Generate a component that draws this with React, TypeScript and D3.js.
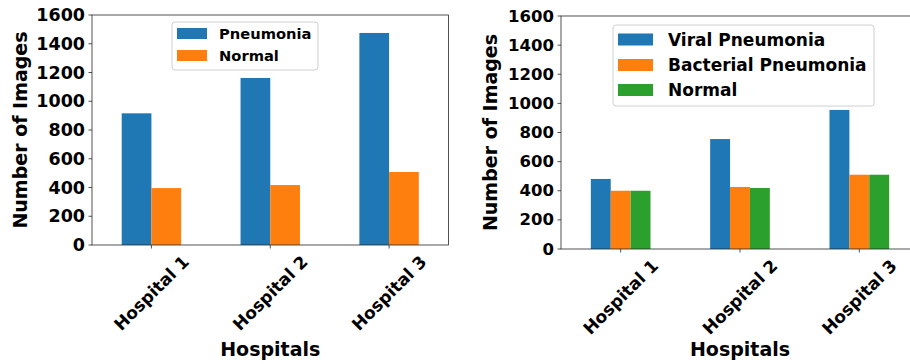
import React from 'react';
import * as d3 from 'd3';

const hospitals = ['Hospital 1', 'Hospital 2', 'Hospital 3'];
const yTicks = [0, 200, 400, 600, 800, 1000, 1200, 1400, 1600];

// left panel
const leftSeries = ['Pneumonia', 'Normal'];
const leftPneumonia = [916, 1162, 1475];
const leftNormal = [396, 417, 508];

// right panel
const rightSeries = ['Viral Pneumonia', 'Bacterial Pneumonia', 'Normal'];
const rightViral = [481, 755, 955];
const rightBacterial = [400, 426, 510];
const rightNormal = [400, 419, 510];

const colors = ['#1f77b4', '#ff7f0e', '#2ca02c'];
const font = '"DejaVu Sans", sans-serif';

type PanelProps = {
  series: string[];
  values: number[][];
  left: number;
  right: number;
  top: number;
  bottom: number;
  tickFont: number;
  yLabelX: number;
  legend: { x: number; y: number; w: number; h: number; patchW: number; patchH: number; rows: number[]; textX: number; size: number };
};

const Panel = ({ series, values, left, right, top, bottom, tickFont, yLabelX, legend }: PanelProps) => {
  const x = d3.scaleLinear().domain([-0.5, 2.5]).range([left, right]);
  const y = d3.scaleLinear().domain([0, 1600]).range([bottom, top]);
  const bw = 0.5 / series.length;
  const axis = '#262626';

  return (
    <g fontFamily={font} fontWeight="bold">
      {values.map((vals, si) =>
        vals.map((v, ci) => {
          const x0 = x(ci - 0.25 + si * bw);
          const x1 = x(ci - 0.25 + (si + 1) * bw);
          return <rect key={`${si}-${ci}`} x={x0} y={y(v)} width={x1 - x0} height={y(0) - y(v)} fill={colors[si]} />;
        })
      )}

      {/* frame */}
      <rect x={left} y={top} width={right - left} height={bottom - top} fill="none" stroke={axis} strokeWidth={0.8} />

      {yTicks.map(t => (
        <g key={t}>
          <line x1={left - 3.5} x2={left} y1={y(t)} y2={y(t)} stroke={axis} strokeWidth={0.8} />
          <text x={left - 7} y={y(t)} textAnchor="end" dominantBaseline="central" fontSize={tickFont} fill="#000">{t}</text>
        </g>
      ))}

      {hospitals.map((h, i) => {
        const cx = x(i);
        const cy = bottom + 48;
        return (
          <g key={h}>
            <line x1={cx} x2={cx} y1={bottom} y2={bottom + 3.5} stroke={axis} strokeWidth={0.8} />
            <text x={cx} y={cy} textAnchor="middle" dominantBaseline="central" fontSize={17}
              transform={`rotate(-45, ${cx}, ${cy})`} fill="#000">{h}</text>
          </g>
        );
      })}

      <text x={(left + right) / 2} y={356} textAnchor="middle" fontSize={19} fill="#000">Hospitals</text>
      <text transform={`translate(${yLabelX}, ${(top + bottom) / 2}) rotate(-90)`} textAnchor="middle"
        dominantBaseline="central" fontSize={19} fill="#000">Number of Images</text>

      <rect x={legend.x} y={legend.y} width={legend.w} height={legend.h} rx={3}
        fill="#fff" fillOpacity={0.8} stroke="#d0d0d0" strokeWidth={1} />
      {series.map((s, i) => (
        <g key={s}>
          <rect x={legend.x + 5} y={legend.rows[i] - legend.patchH / 2} width={legend.patchW} height={legend.patchH} fill={colors[i]} />
          <text x={legend.textX} y={legend.rows[i]} dominantBaseline="central" fontSize={legend.size} fill="#000">{s}</text>
        </g>
      ))}
    </g>
  );
};

export default function App() {
  return (
    <svg width={910} height={364} style={{ position: 'absolute', left: 0, top: 0, background: '#fff' }}>
      <Panel
        series={leftSeries}
        values={[leftPneumonia, leftNormal]}
        left={92} right={448.5} top={15} bottom={245}
        tickFont={17.5}
        yLabelX={20}
        legend={{ x: 172, y: 22, w: 146, h: 48, patchW: 30, patchH: 11, rows: [33.5, 55.5], textX: 219, size: 14.7 }}
      />
      <Panel
        series={rightSeries}
        values={[rightViral, rightBacterial, rightNormal]}
        left={561} right={919} top={16} bottom={249}
        tickFont={16.5}
        yLabelX={490}
        legend={{ x: 613, y: 25, w: 261, h: 81, patchW: 35, patchH: 12, rows: [39.5, 65, 90], textX: 668, size: 17 }}
      />
    </svg>
  );
}
